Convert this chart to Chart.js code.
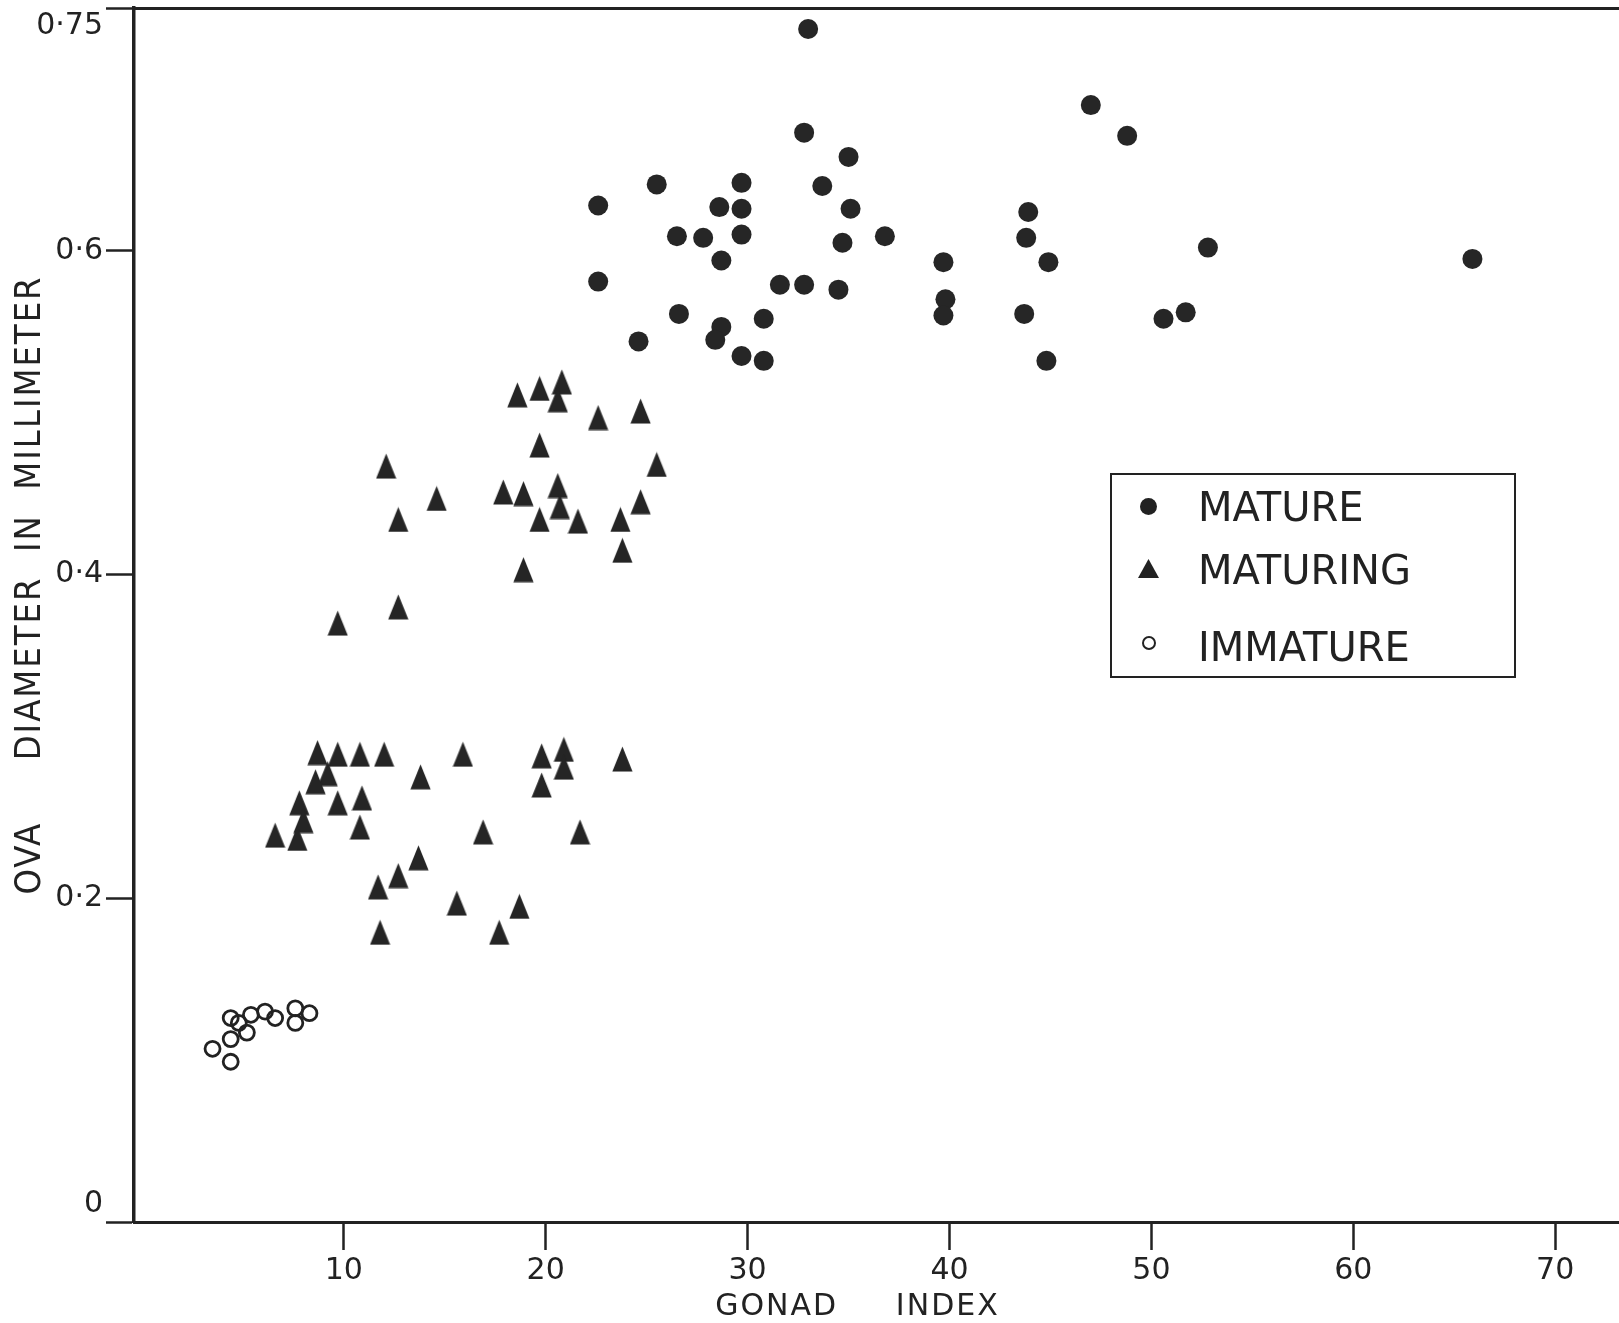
<!DOCTYPE html>
<html>
<head>
<meta charset="utf-8">
<script src="https://cdn.jsdelivr.net/npm/chart.js@4.4.1/dist/chart.umd.min.js"></script>
<style>
  html, body { margin: 0; padding: 0; background: #fff; }
  #wrap { position: relative; width: 1619px; height: 1323px; overflow: hidden; }
  #c { position: absolute; left: 0; top: 0; }
  #legend { position: absolute; left: 1110px; top: 473px; width: 406px; height: 205px;
    box-sizing: border-box; border: 2.5px solid #222; color: #222;
    font-family: "DejaVu Sans", sans-serif; font-size: 40px; line-height: 1; }
  #legend .txt { position: absolute; left: 86px; white-space: nowrap; }
  #legend .sym { position: absolute; }
</style>
</head>
<body>
<div id="wrap">
  <canvas id="c" width="1619" height="1323"></canvas>
  <div id="legend">
    <span class="sym" style="left:28px;top:23px;width:17px;height:17px;border-radius:50%;background:#222;"></span>
    <span class="txt" style="top:12px;">MATURE</span>
    <svg class="sym" style="left:26px;top:84px;" width="21" height="19" viewBox="0 0 21 19"><polygon points="10.5,0 21,19 0,19" fill="#222"/></svg>
    <span class="txt" style="top:75px;">MATURING</span>
    <span class="sym" style="left:30px;top:161px;width:10px;height:10px;border-radius:50%;border:2.4px solid #222;"></span>
    <span class="txt" style="top:152px;">IMMATURE</span>
  </div>
</div>
<script>
// ---- data ----
const matureX = [33.0, 32.8, 35.0, 25.5, 29.7, 33.7, 22.6, 28.6, 29.7, 35.1, 43.9, 26.5, 27.8, 29.7, 34.7, 36.8, 43.8, 28.7, 39.7, 44.9, 22.6, 31.6, 32.8, 34.5, 39.8, 39.7, 43.7, 26.6, 30.8, 28.7, 28.4, 24.6, 29.7, 30.8, 44.8, 47.0, 48.8, 52.8, 65.9, 50.6, 51.7];
const matureY = [0.737, 0.673, 0.658, 0.641, 0.642, 0.640, 0.628, 0.627, 0.626, 0.626, 0.624, 0.609, 0.608, 0.610, 0.605, 0.609, 0.608, 0.594, 0.593, 0.593, 0.581, 0.579, 0.579, 0.576, 0.570, 0.560, 0.561, 0.561, 0.558, 0.553, 0.545, 0.544, 0.535, 0.532, 0.532, 0.690, 0.671, 0.602, 0.595, 0.558, 0.562];

const maturingX = [20.8, 19.7, 18.6, 20.6, 22.6, 24.7, 19.7, 25.5, 12.1, 14.6, 17.9, 18.9, 20.6, 20.7, 19.7, 21.6, 23.7, 24.7, 12.7, 18.9, 23.8, 12.7, 9.7, 8.7, 9.7, 10.8, 12.0, 15.9, 19.8, 20.9, 20.9, 23.8, 9.2, 8.6, 13.8, 19.8, 7.8, 9.7, 10.9, 8.0, 10.8, 6.6, 7.7, 16.9, 21.7, 13.7, 12.7, 11.7, 15.6, 18.7, 11.8, 17.7];
const maturingY = [0.519, 0.515, 0.511, 0.508, 0.497, 0.501, 0.480, 0.468, 0.467, 0.447, 0.451, 0.450, 0.455, 0.442, 0.434, 0.433, 0.434, 0.445, 0.434, 0.403, 0.415, 0.380, 0.370, 0.290, 0.289, 0.289, 0.289, 0.289, 0.288, 0.292, 0.281, 0.286, 0.277, 0.272, 0.275, 0.270, 0.259, 0.259, 0.262, 0.248, 0.244, 0.239, 0.237, 0.241, 0.241, 0.225, 0.214, 0.207, 0.197, 0.195, 0.179, 0.179];

const immatureX = [3.5, 4.4, 4.4, 4.4, 4.8, 5.2, 5.4, 6.1, 6.6, 7.6, 7.6, 8.3];
const immatureY = [0.107, 0.113, 0.099, 0.126, 0.123, 0.117, 0.128, 0.130, 0.126, 0.132, 0.123, 0.129];

const xTicks = [10, 20, 30, 40, 50, 60, 70];
const yTicks = [0, 0.2, 0.4, 0.6, 0.75];
const yTickLabels = ['0', '0·2', '0·4', '0·6', '0·75'];

const xTitle = 'GONAD     INDEX';
const yTitle = 'OVA     DIAMETER  IN  MILLIMETER';

// ---- helpers ----
function pts(xs, ys) { return xs.map((x, i) => ({ x: x, y: ys[i] })); }

const INK = '#222';

// tall filled triangle marker
const tri = document.createElement('canvas');
tri.width = 21; tri.height = 26;
(function () {
  const t = tri.getContext('2d');
  t.fillStyle = '#252525';
  t.beginPath();
  t.moveTo(10.5, 0.5);
  t.lineTo(20.6, 25.6);
  t.lineTo(0.4, 25.6);
  t.closePath();
  t.fill();
})();

// title styling (letter spacing + shift) applied around Chart.js own title drawing
const titleStyle = {
  x: { spacing: '2px', dx: -19, dy: 0 },
  y: { spacing: '2px', dx: 0, dy: -30 }
};
const titlePlugin = {
  id: 'titleStyle',
  beforeDraw(chart) {
    Object.keys(titleStyle).forEach(id => {
      const s = chart.scales[id];
      if (!s || s.__patched) return;
      const orig = s.drawTitle;
      const st = titleStyle[id];
      s.drawTitle = function () {
        const c = this.ctx;
        c.save();
        try { c.letterSpacing = st.spacing; } catch (e) {}
        c.translate(st.dx, st.dy);
        orig.apply(this, arguments);
        c.restore();
      };
      s.__patched = true;
    });
  }
};

function noPad(s) { s.paddingTop = 0; s.paddingBottom = 0; s.paddingLeft = 0; s.paddingRight = 0; }

Chart.defaults.font.family = '"DejaVu Sans", sans-serif';
Chart.defaults.color = INK;

new Chart(document.getElementById('c').getContext('2d'), {
  type: 'scatter',
  data: {
    datasets: [
      { label: 'MATURE', data: pts(matureX, matureY), pointStyle: 'circle', pointRadius: 10,
        backgroundColor: '#262626', borderWidth: 0 },
      { label: 'MATURING', data: pts(maturingX, maturingY), pointStyle: tri, pointRadius: 10,
        backgroundColor: '#262626', borderWidth: 0 },
      { label: 'IMMATURE', data: pts(immatureX, immatureY), pointStyle: 'circle', pointRadius: 7.5,
        backgroundColor: 'rgba(0,0,0,0)', borderColor: INK, borderWidth: 2.8 }
    ]
  },
  options: {
    responsive: false,
    animation: false,
    devicePixelRatio: 1,
    layout: { autoPadding: false, padding: { top: 8, right: 0, left: 0, bottom: 0 } },
    plugins: { legend: { display: false }, tooltip: { enabled: false } },
    scales: {
      x: {
        type: 'linear', position: 'bottom', min: -0.39, max: 73.16,
        afterBuildTicks: s => { s.ticks = xTicks.map(v => ({ value: v })); },
        afterFit: s => { s.height = 101; noPad(s); },
        grid: { drawOnChartArea: false, drawTicks: true, tickLength: 28, tickWidth: 2.5, tickColor: INK },
        border: { display: true, color: INK, width: 3 },
        ticks: { color: INK, font: { size: 30 }, padding: 3, maxRotation: 0, autoSkip: false,
          callback: v => String(v) },
        title: { display: true, text: xTitle, color: INK,
          font: { size: 30, lineHeight: 1 }, padding: { top: 0, bottom: 1 } }
      },
      xTop: {
        type: 'linear', position: 'top', min: -0.39, max: 73.16, display: true,
        afterFit: s => { s.height = 0; noPad(s); },
        grid: { display: false, drawTicks: false },
        ticks: { display: false },
        border: { display: true, color: INK, width: 3 }
      },
      y: {
        type: 'linear', position: 'left', min: 0, max: 0.75,
        afterBuildTicks: s => { s.ticks = yTicks.map(v => ({ value: v })); },
        afterFit: s => { s.width = 134; noPad(s); },
        grid: { drawOnChartArea: false, drawTicks: true, tickLength: 28, tickWidth: 2.5, tickColor: INK },
        border: { display: true, color: INK, width: 3.5 },
        ticks: { color: INK, font: { size: 30 }, padding: 3, autoSkip: false,
          callback: (v, i) => {
            const lab = yTickLabels[i];
            if (i === 0) return [lab, ''];
            if (i === yTickLabels.length - 1) return ['', lab];
            return lab;
          } },
        title: { display: true, text: yTitle, color: INK,
          font: { family: '"Liberation Sans Narrow", "DejaVu Sans Condensed", "DejaVu Sans", sans-serif', size: 36 },
          padding: { top: 9, bottom: 0 } }
      }
    }
  },
  plugins: [titlePlugin]
});
</script>
</body>
</html>
